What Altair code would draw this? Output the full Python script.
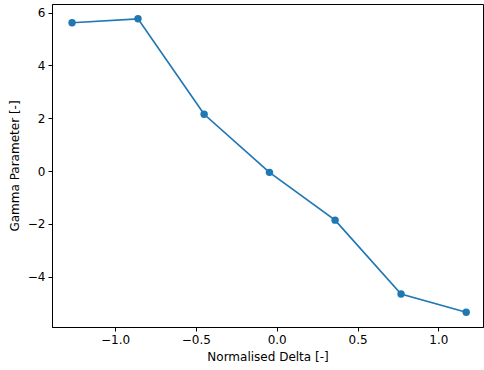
import altair as alt
import pandas as pd

delta = [-1.266, -0.858, -0.449, -0.045, 0.361, 0.769, 1.172]
gamma = [5.62, 5.77, 2.15, -0.05, -1.86, -4.66, -5.35]

df = pd.DataFrame({"delta": delta, "gamma": gamma})

x_ticks = [-1.0, -0.5, 0.0, 0.5, 1.0]
y_ticks = [-4, -2, 0, 2, 4, 6]

font = "DejaVu Sans"
minus = "replace(datum.label, '-', '\u2212')"

x = alt.X("delta:Q", scale=alt.Scale(domain=[-1.39, 1.276], nice=False, zero=False),
          axis=alt.Axis(title="Normalised Delta [-]", values=x_ticks, format=".1f",
                        labelExpr=minus, grid=False))
y = alt.Y("gamma:Q", scale=alt.Scale(domain=[-5.91, 6.33], nice=False, zero=False),
          axis=alt.Axis(title="Gamma Parameter [-]", values=y_ticks, format="d",
                        labelExpr=minus, grid=False))

base = alt.Chart(df)
line = base.mark_line(color="#1f77b4", strokeWidth=1.7).encode(x=x, y=y)
pts = base.mark_circle(color="#1f77b4", size=55, opacity=1).encode(x=x, y=y)

chart = (line + pts).properties(
    width=431, height=323,
    autosize=alt.AutoSizeParams(type="none"),
    padding={"left": 52, "top": 4, "right": 1, "bottom": 43},
).configure_view(
    stroke="black", strokeWidth=1
).configure_axis(
    domainColor="black", domainWidth=1, tickColor="black", tickWidth=1, tickSize=4,
    labelFont=font, labelFontSize=12, labelColor="black", labelPadding=3,
    titleFont=font, titleFontSize=12, titleColor="black", titleFontWeight="normal",
).configure_axisX(titlePadding=6).configure_axisY(titlePadding=6)

chart.save("out.html", embed_options={"renderer": "svg", "actions": False})
